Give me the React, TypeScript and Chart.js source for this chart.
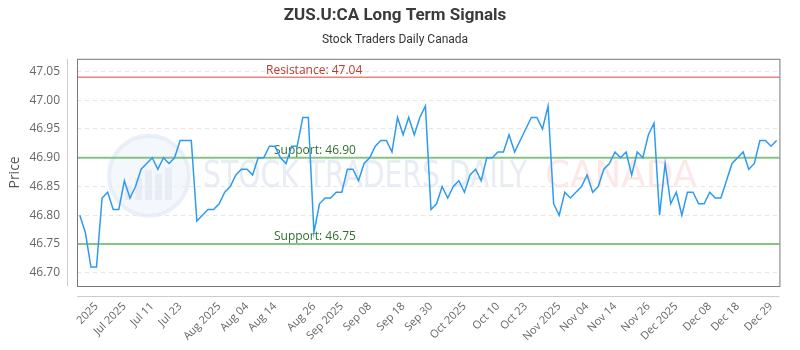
import React, { useEffect, useRef } from "react";
import { Chart, registerables } from "chart.js";

Chart.register(...registerables);

const prices: number[] = [
  46.8, 46.77, 46.71, 46.71, 46.83, 46.84, 46.81, 46.81, 46.86, 46.83,
  46.85, 46.88, 46.89, 46.9, 46.88, 46.9, 46.89, 46.9, 46.93, 46.93,
  46.93, 46.79, 46.8, 46.81, 46.81, 46.82, 46.84, 46.85, 46.87, 46.88,
  46.88, 46.87, 46.9, 46.9, 46.92, 46.92, 46.9, 46.89, 46.92, 46.92,
  46.97, 46.97, 46.77, 46.82, 46.83, 46.83, 46.84, 46.84, 46.88, 46.88,
  46.86, 46.89, 46.9, 46.92, 46.93, 46.93, 46.91, 46.97, 46.94, 46.97,
  46.94, 46.97, 46.99, 46.81, 46.82, 46.85, 46.83, 46.85, 46.86, 46.84,
  46.87, 46.88, 46.86, 46.9, 46.9, 46.91, 46.91, 46.94, 46.91, 46.93,
  46.95, 46.97, 46.97, 46.95, 46.99, 46.82, 46.8, 46.84, 46.83, 46.84,
  46.85, 46.87, 46.84, 46.85, 46.88, 46.89, 46.91, 46.9, 46.91, 46.87,
  46.91, 46.9, 46.94, 46.96, 46.8, 46.89, 46.82, 46.84, 46.8, 46.84,
  46.84, 46.82, 46.82, 46.84, 46.83, 46.83, 46.86, 46.89, 46.9, 46.91,
  46.88, 46.89, 46.93, 46.93, 46.92, 46.93,
];

const tickIndexes: number[] = [3, 8, 13, 18, 25, 30, 35, 42, 47, 52, 58, 63, 69, 75, 80, 86, 91, 96, 102, 107, 113, 118, 124];
const tickTexts: string[] = [
  "2025", "Jul 2025", "Jul 11", "Jul 23", "Aug 2025", "Aug 04", "Aug 14", "Aug 26",
  "Sep 2025", "Sep 08", "Sep 18", "Sep 30", "Oct 2025", "Oct 10", "Oct 23",
  "Nov 2025", "Nov 04", "Nov 14", "Nov 26", "Dec 2025", "Dec 08", "Dec 18", "Dec 29",
];
const yTickValues: number[] = [46.7, 46.75, 46.8, 46.85, 46.9, 46.95, 47.0, 47.05];
const yMin = 46.677;
const yMax = 47.072;
const resistanceLevels: number[] = [47.04];
const supportLevels: number[] = [46.9, 46.75];

const labels: string[] = prices.map((_, i) => {
  const k = tickIndexes.indexOf(i);
  return k >= 0 ? tickTexts[k] : "";
});

const drawFitted = (ctx: CanvasRenderingContext2D, text: string, x: number, y: number, width: number) => {
  const w = ctx.measureText(text).width;
  ctx.save();
  ctx.translate(x, y);
  ctx.scale(width / w, 1);
  ctx.fillText(text, 0, 0);
  ctx.restore();
};

const decorPlugin = {
  id: "decor",
  beforeDatasetsDraw(chart: any) {
    const { ctx, chartArea, scales } = chart;
    const y = scales.y;
    ctx.save();
    // watermark logo
    const cx = chartArea.left + 72;
    const cy = chartArea.top + 117;
    ctx.beginPath();
    ctx.arc(cx, cy, 40, 0, Math.PI * 2);
    ctx.fillStyle = "rgba(236,242,250,0.6)";
    ctx.fill();
    ctx.lineWidth = 4;
    ctx.strokeStyle = "rgba(226,234,246,0.7)";
    ctx.stroke();
    ctx.fillStyle = "rgba(220,226,238,0.5)";
    const hs = [14, 22, 30, 26, 32];
    hs.forEach((h, i) => {
      ctx.fillRect(cx - 24 + i * 10, cy + 24 - h, 7, h);
    });
    // watermark text
    ctx.font = "38px 'DejaVu Sans'";
    ctx.textBaseline = "middle";
    ctx.textAlign = "left";
    ctx.fillStyle = "rgba(226,231,241,0.8)";
    drawFitted(ctx, "STOCK TRADERS DAILY", chartArea.left + 126, cy + 1, 324);
    ctx.fillStyle = "rgba(253,228,228,0.85)";
    drawFitted(ctx, "CANADA", chartArea.left + 468, cy + 1, 152);

    // reference lines
    const drawLevel = (v: number, color: string, width: number, text: string, textColor: string, tx: number) => {
      const py = y.getPixelForValue(v);
      ctx.beginPath();
      ctx.moveTo(chartArea.left, py);
      ctx.lineTo(chartArea.right, py);
      ctx.strokeStyle = color;
      ctx.lineWidth = width;
      ctx.stroke();
      ctx.font = "12px 'Open Sans'";
      ctx.fillStyle = textColor;
      ctx.textAlign = "left";
      ctx.textBaseline = "bottom";
      ctx.fillText(text, tx, py - 1);
    };
    resistanceLevels.forEach((v) =>
      drawLevel(v, "rgba(230,120,110,0.9)", 1.5, "Resistance: " + v.toFixed(2), "#b83a32", chartArea.left + 189)
    );
    supportLevels.forEach((v) =>
      drawLevel(v, "rgba(120,190,120,0.9)", 2, "Support: " + v.toFixed(2), "#2f6e2f", chartArea.left + 197)
    );
    ctx.restore();
  },
  afterDraw(chart: any) {
    const { ctx, chartArea } = chart;
    ctx.save();
    ctx.strokeStyle = "#777";
    ctx.lineWidth = 1;
    ctx.strokeRect(chartArea.left + 0.5, chartArea.top + 0.5, chartArea.right - chartArea.left, chartArea.bottom - chartArea.top);
    ctx.strokeStyle = "#ccc";
    ctx.beginPath();
    ctx.moveTo(chartArea.left - 9.5, chartArea.top);
    ctx.lineTo(chartArea.left - 9.5, chartArea.bottom);
    ctx.moveTo(chartArea.left, chartArea.bottom + 10.5);
    ctx.lineTo(chartArea.right, chartArea.bottom + 10.5);
    ctx.stroke();
    ctx.restore();
  },
};

export default function App() {
  const canvasRef = useRef<HTMLCanvasElement | null>(null);

  useEffect(() => {
    document.body.style.margin = "0";
    const canvas = canvasRef.current;
    if (!canvas) return;
    const chart = new Chart(canvas, {
      type: "line",
      data: {
        labels,
        datasets: [
          {
            label: "Price",
            data: prices,
            borderColor: "#2f9bf0",
            borderWidth: 1.5,
            pointRadius: 0,
            tension: 0,
            fill: false,
          },
        ],
      },
      options: {
        animation: false,
        responsive: false,
        maintainAspectRatio: false,
        layout: { padding: { left: 0, right: 10, top: 0, bottom: 0 } },
        plugins: {
          legend: { display: false },
          tooltip: { enabled: false },
          title: {
            display: true,
            text: "ZUS.U:CA Long Term Signals",
            color: "#3a3a3a",
            font: { family: "Roboto", size: 17, weight: "bold" },
            padding: { top: 6, bottom: 4 },
          },
          subtitle: {
            display: true,
            text: "Stock Traders Daily Canada",
            color: "#333",
            font: { family: "Roboto", size: 12 },
            padding: { top: 2, bottom: 12 },
          },
        },
        scales: {
          x: {
            type: "category",
            offset: true,
            grid: { display: false, drawTicks: false },
            border: { display: false },
            afterFit: (scale: any) => {
              scale.height = 64;
            },
            ticks: {
              autoSkip: false,
              maxRotation: 45,
              minRotation: 45,
              padding: 14,
              color: "#666",
              font: { family: "Open Sans", size: 11 },
            },
          },
          y: {
            type: "linear",
            min: yMin,
            max: yMax,
            afterBuildTicks: (scale: any) => {
              scale.ticks = yTickValues.map((v) => ({ value: v }));
            },
            afterFit: (scale: any) => {
              scale.width = 77;
            },
            grid: { color: "rgba(0,0,0,0.1)", drawTicks: false },
            border: { display: false, dash: [4, 4] },
            ticks: {
              padding: 17,
              color: "#666",
              font: { family: "Open Sans", size: 12 },
              callback: (v: any) => Number(v).toFixed(2),
            },
            title: {
              display: true,
              text: "Price",
              color: "#555",
              font: { family: "Open Sans", size: 14 },
              padding: { top: 7, bottom: 4 },
            },
          },
        },
      },
      plugins: [decorPlugin],
    });
    return () => chart.destroy();
  }, []);

  return <canvas ref={canvasRef} width={800} height={350} style={{ display: "block" }} />;
}
